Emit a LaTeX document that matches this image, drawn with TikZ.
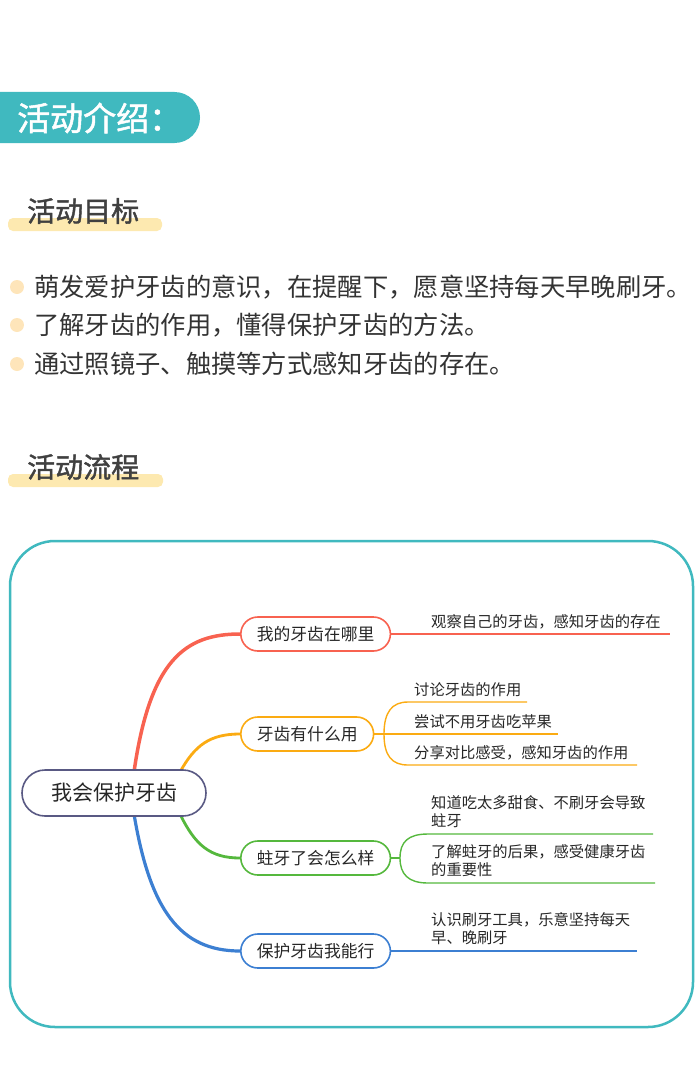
\documentclass[tikz,border=0pt]{standalone}
\usepackage{fontspec}
\setmainfont{Noto Sans CJK SC}
\newfontfamily\cjkb[FakeBold=1.5]{Noto Sans CJK SC}
\begin{document}
\begin{tikzpicture}[x=1pt,y=-1pt,
  bul/.style={anchor=west,font=\fontsize{25.3}{28}\selectfont,text=black!80,inner sep=0pt},
  br/.style={draw=#1,line width=1.6pt,rounded corners=17pt,minimum height=34pt,inner xsep=16pt,font=\fontsize{16.8}{19}\selectfont,text=black!85,anchor=west},
  leaf/.style={anchor=south west,font=\fontsize{15.3}{18}\selectfont,text=black!85,align=left,inner sep=1pt},
  hd/.style={anchor=west,text=black!75,font=\cjkb\fontsize{28}{30}\selectfont,inner sep=0pt},
  ln/.style={draw=#1,line width=1.4pt}]
\definecolor{tl}{HTML}{40B9BF}
\definecolor{yb}{HTML}{FDE9B0}
\definecolor{cr}{HTML}{F86250}
\definecolor{co}{HTML}{FBAB12}
\definecolor{cg}{HTML}{55B83D}
\definecolor{cb}{HTML}{3C7FD2}
\useasboundingbox (0,0) rectangle (700,1070);
% header
\begin{scope}
\clip (0,0) rectangle (700,1070);
\fill[tl,rounded corners=25.5pt] (-40,92) rectangle (200,143);
\end{scope}
\node[anchor=west,text=white,font=\cjkb\fontsize{33}{35}\selectfont,inner sep=0pt] (h1) at (17,118) {活动介绍：};
\fill[yb,rounded corners=5pt] (8,218) rectangle (162,231);
\node[hd] (h2) at (27,211) {活动目标};
\foreach \y in {287,325,364} \fill[yb!80!orange!60] (17,\y) circle (7);
\node[bul] (b1) at (34,287) {萌发爱护牙齿的意识，在提醒下，愿意坚持每天早晚刷牙。};
\node[bul] (b2) at (34,325) {了解牙齿的作用，懂得保护牙齿的方法。};
\node[bul] (b3) at (34,364) {通过照镜子、触摸等方式感知牙齿的存在。};
\fill[yb,rounded corners=5pt] (8,474) rectangle (163,487);
\node[hd] (h3) at (27,467) {活动流程};
% frame
\draw[tl,line width=2.5pt,rounded corners=45pt] (10,541) rectangle (693,1027);
% mind map curves
\draw[cr,line width=3.5pt] (134,772) .. controls (150,660) and (185,634) .. (240,634);
\draw[co,line width=2.8pt] (180,772) .. controls (195,745) and (210,734) .. (240,734);
\draw[cg,line width=2.8pt] (180,814) .. controls (195,845) and (210,858) .. (240,858);
\draw[cb,line width=3.2pt] (134,814) .. controls (150,910) and (180,951) .. (240,951);
\node[draw=black!45!blue!30!gray,line width=1.6pt,rounded corners=23pt,minimum width=184pt,minimum height=46pt,fill=white,font=\fontsize{21}{23}\selectfont,text=black!85] (c) at (114,793) {我会保护牙齿};
\node[br=cr,fill=white] (n1) at (240,634) {我的牙齿在哪里};
\node[br=co,fill=white] (n2) at (240,734) {牙齿有什么用};
\node[br=cg,fill=white] (n3) at (240,858) {蛀牙了会怎么样};
\node[br=cb,fill=white] (n4) at (240,951) {保护牙齿我能行};
% leaves
\coordinate (r1) at (670,634);
\draw[ln=cr] (n1.east) -- (r1);
\node[leaf] (t1) at (430,630) {观察自己的牙齿，感知牙齿的存在};
\coordinate (o0) at (384,734);
\coordinate (o1) at (527,702); \coordinate (o2) at (558,734); \coordinate (o3) at (637,765);
\draw[ln=co] (n2.east) -- (o0) -- (o2);
\draw[ln=co] (o0) .. controls (384,712) and (392,702) .. (408,702) -- (o1);
\draw[ln=co] (o0) .. controls (384,756) and (392,765) .. (408,765) -- (o3);
\node[leaf] (t2) at (413,698) {讨论牙齿的作用};
\node[leaf] (t3) at (413,730) {尝试不用牙齿吃苹果};
\node[leaf] (t4) at (413,761) {分享对比感受，感知牙齿的作用};
\coordinate (g0) at (400,858);
\coordinate (g1) at (653,834); \coordinate (g2) at (655,883);
\draw[ln=cg] (n3.east) -- (g0);
\draw[ln=cg] (g0) .. controls (400,842) and (408,834) .. (428,834) -- (g1);
\draw[ln=cg] (g0) .. controls (400,874) and (408,883) .. (428,883) -- (g2);
\node[leaf] (t5) at (430,829) {知道吃太多甜食、不刷牙会导致\\蛀牙};
\node[leaf] (t6) at (430,878) {了解蛀牙的后果，感受健康牙齿\\的重要性};
\coordinate (bl1) at (637,951);
\draw[ln=cb] (n4.east) -- (bl1);
\node[leaf] (t7) at (430,946) {认识刷牙工具，乐意坚持每天\\早、晚刷牙};
\end{tikzpicture}
\end{document}
